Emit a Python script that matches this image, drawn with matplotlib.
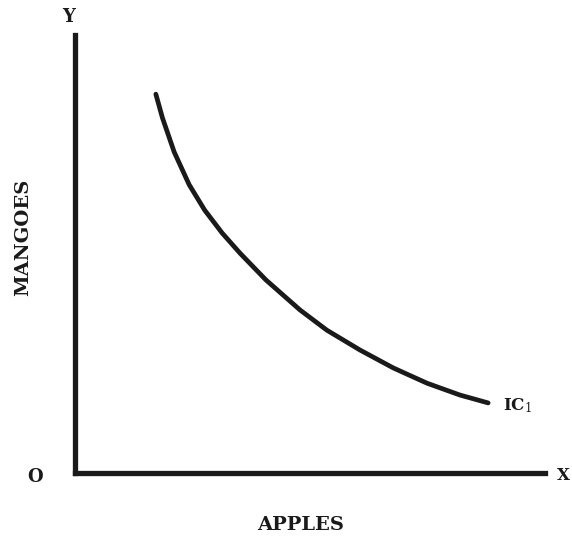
import matplotlib.pyplot as plt

# Indifference curve IC1 (apples vs mangoes)
apples = [1.72, 1.86, 2.11, 2.43, 2.76, 3.13, 3.51, 4.06, 4.79, 5.36, 6.06, 6.77, 7.49, 8.19, 8.79]
mangoes = [8.65, 8.11, 7.33, 6.58, 6.00, 5.48, 5.02, 4.41, 3.72, 3.26, 2.81, 2.40, 2.05, 1.78, 1.60]
curve_label = 'IC$_1$'

plt.rcParams['font.family'] = ['DejaVu Serif']
plt.rcParams['mathtext.fontset'] = 'dejavuserif'
ink = '#1a1a1a'

W, H = 572, 538
fig = plt.figure(figsize=(W / 100, H / 100), dpi=100)
ax = fig.add_axes([75 / W, 65 / H, 470 / W, 438 / H])
ax.set_xlim(0, 10)
ax.set_ylim(0, 10)

ax.plot(apples, mangoes, color=ink, linewidth=3.4, solid_capstyle='round', solid_joinstyle='round')
ax.annotate(curve_label, (apples[-1], mangoes[-1]), xytext=(11, -2), textcoords='offset points',
            fontsize=12, fontweight='bold', va='center', ha='left', color=ink)

for side in ['top', 'right']:
    ax.spines[side].set_visible(False)
for side in ['left', 'bottom']:
    ax.spines[side].set_linewidth(3.8)
    ax.spines[side].set_color(ink)
ax.set_xticks([])
ax.set_yticks([])


def label(px, py, s, **kw):
    fig.text(px / W, 1 - py / H, s, ha='center', va='center', fontweight='bold', color=ink, **kw)


label(301, 525, 'APPLES', fontsize=14)
label(23, 237, 'MANGOES', fontsize=14, rotation=90)
label(69, 17, 'Y', fontsize=13)
label(563, 475, 'X', fontsize=12)
label(35, 477, 'O', fontsize=13)

fig.savefig('out.png', dpi=100, facecolor='white')
